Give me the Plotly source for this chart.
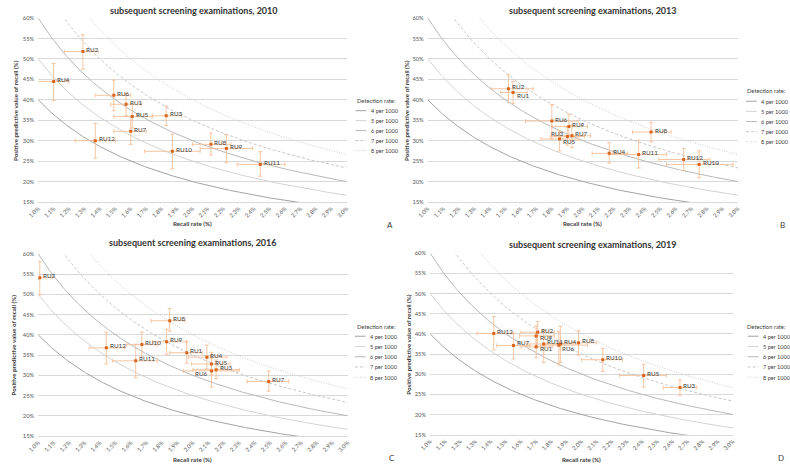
import numpy as np
import plotly.graph_objects as go

W, H = 790, 466
FONT = "Lato, 'Liberation Sans', sans-serif"

units = ["RU1", "RU2", "RU3", "RU4", "RU5", "RU6", "RU7", "RU8", "RU9", "RU10", "RU11", "RU12"]
years = ["2010", "2013", "2016", "2019"]

# ---- 2010 ----
recall_2010 = [1.57, 1.29, 1.83, 1.10, 1.61, 1.49, 1.60, 2.12, 2.22, 1.87, 2.44, 1.37]
recall_lo_2010 = [1.47, 1.17, 1.74, 0.99, 1.49, 1.37, 1.49, 2.00, 2.05, 1.69, 2.29, 1.24]
recall_hi_2010 = [1.67, 1.39, 1.93, 1.20, 1.74, 1.60, 1.70, 2.25, 2.39, 2.05, 2.60, 1.50]
ppv_2010 = [38.9, 51.8, 36.1, 44.5, 35.9, 41.1, 32.3, 29.1, 28.1, 27.4, 24.2, 30.0]
ppv_lo_2010 = [36.1, 47.5, 33.7, 39.8, 33.1, 37.3, 29.1, 26.5, 24.6, 23.1, 21.3, 25.7]
ppv_hi_2010 = [41.6, 55.9, 38.5, 48.9, 38.9, 44.8, 36.0, 31.9, 31.5, 31.6, 27.3, 34.2]

# ---- 2013 ----
recall_2013 = [1.55, 1.52, 1.90, 2.17, 1.85, 1.80, 1.93, 2.44, 1.91, 2.75, 2.36, 2.65]
recall_lo_2013 = [1.47, 1.41, 1.79, 2.06, 1.73, 1.63, 1.82, 2.32, 1.80, 2.54, 2.17, 2.49]
recall_hi_2013 = [1.64, 1.68, 2.01, 2.29, 1.97, 1.97, 2.05, 2.57, 2.03, 2.97, 2.54, 2.82]
ppv_2013 = [41.8, 42.7, 31.0, 26.9, 30.4, 34.8, 31.2, 32.1, 33.5, 24.2, 26.6, 25.4]
ppv_lo_2013 = [39.1, 39.4, 28.9, 24.5, 27.5, 30.4, 28.3, 29.7, 30.9, 20.9, 23.3, 22.7]
ppv_hi_2013 = [44.5, 46.1, 33.3, 29.5, 32.3, 38.8, 33.8, 34.5, 36.5, 27.5, 30.1, 28.1]

# ---- 2016 ----
recall_2016 = [1.96, 1.01, 2.15, 2.09, 2.12, 2.12, 2.49, 1.85, 1.83, 1.67, 1.63, 1.44]
recall_lo_2016 = [1.85, 1.00, 2.00, 1.97, 1.99, 1.94, 2.35, 1.73, 1.74, 1.57, 1.48, 1.33]
recall_hi_2016 = [2.06, 1.09, 2.30, 2.22, 2.24, 2.29, 2.62, 1.95, 1.96, 1.77, 1.77, 1.56]
ppv_2016 = [35.6, 54.1, 31.4, 34.5, 32.8, 31.1, 28.5, 43.5, 38.3, 37.6, 33.6, 36.8]
ppv_lo_2016 = [33.0, 49.9, 29.2, 31.6, 30.1, 27.1, 26.1, 40.9, 35.2, 34.6, 29.4, 32.8]
ppv_hi_2016 = [38.3, 58.1, 33.8, 37.5, 35.7, 34.2, 31.1, 46.5, 41.4, 40.7, 37.7, 40.7]

# ---- 2019 ----
recall_2019 = [1.70, 1.71, 2.65, 1.86, 2.41, 1.85, 1.55, 1.98, 1.70, 2.14, 1.75, 1.42]
recall_lo_2019 = [1.60, 1.60, 2.54, 1.75, 2.25, 1.73, 1.44, 1.85, 1.59, 2.00, 1.64, 1.31]
recall_hi_2019 = [1.81, 1.82, 2.76, 1.98, 2.56, 2.04, 1.66, 2.10, 1.82, 2.27, 1.87, 1.55]
ppv_2019 = [36.8, 40.4, 26.7, 37.5, 29.7, 37.2, 37.1, 37.8, 39.5, 33.6, 37.5, 40.1]
ppv_lo_2019 = [34.1, 36.8, 24.8, 32.9, 26.8, 32.3, 33.8, 34.7, 36.6, 30.7, 32.9, 36.0]
ppv_hi_2019 = [40.1, 43.1, 28.6, 41.9, 32.5, 40.6, 40.2, 40.8, 42.0, 36.4, 40.9, 44.3]

# iso detection-rate reference curves (per 1000)
detection_rates = [4, 5, 6, 7, 8]
detection_labels = ["4 per 1000", "5 per 1000", "6 per 1000", "7 per 1000", "8 per 1000"]

x_ticks = [round(1.0 + 0.1 * i, 1) for i in range(21)]
y_ticks = [15, 20, 25, 30, 35, 40, 45, 50, 55, 60]

data = {
    "2010": (recall_2010, recall_lo_2010, recall_hi_2010, ppv_2010, ppv_lo_2010, ppv_hi_2010),
    "2013": (recall_2013, recall_lo_2013, recall_hi_2013, ppv_2013, ppv_lo_2013, ppv_hi_2013),
    "2016": (recall_2016, recall_lo_2016, recall_hi_2016, ppv_2016, ppv_lo_2016, ppv_hi_2016),
    "2019": (recall_2019, recall_lo_2019, recall_hi_2019, ppv_2019, ppv_lo_2019, ppv_hi_2019),
}

# ---- styling / layout geometry (pixels) ----
curve_styles = [
    dict(color="#a3a3a3", dash="solid"),
    dict(color="#d3d3d3", dash="solid"),
    dict(color="#b8b8b8", dash="solid"),
    dict(color="#c6c6c6", dash="3px,2px"),
    dict(color="#cccccc", dash="1px,1.5px"),
]

panels = {
    "2010": dict(plot=(27.7, 341.7, 14.3, 201.0), title=(186.0, 6.5), leg_title=(350.7, 97.7),
                 leg_line=(350.7, 361.7), leg_text=364.3, leg_first=108.3, leg_step=10.1,
                 letter=("A", 385.7, 224.0), ytitle_x=4.0, xtitle_y=222.5),
    "2013": dict(plot=(424.3, 740.0, 14.3, 201.0), title=(592.0, 6.5), leg_title=(747.7, 88.0),
                 leg_line=(748.3, 759.3), leg_text=761.7, leg_first=98.7, leg_step=10.3,
                 letter=("B", 785.0, 224.0), ytitle_x=402.0, xtitle_y=222.5),
    "2016": dict(plot=(27.7, 342.7, 253.7, 438.7), title=(185.0, 242.5), leg_title=(350.0, 327.0),
                 leg_line=(350.0, 361.0), leg_text=363.0, leg_first=337.3, leg_step=10.4,
                 letter=("C", 388.0, 461.0), ytitle_x=3.5, xtitle_y=462.0),
    "2019": dict(plot=(426.7, 735.0, 253.0, 437.3), title=(592.0, 244.0), leg_title=(747.7, 327.3),
                 leg_line=(750.0, 761.0), leg_text=763.3, leg_first=337.3, leg_step=10.4,
                 letter=("D", 784.0, 461.0), ytitle_x=405.0, xtitle_y=462.0),
}

# label offsets (xanchor, xshift, yshift) for crowded points
default_off = ("left", 1.5, 2.0)
label_offsets = {
    "2013": {"RU1": ("left", 1.5, -3.3), "RU5": ("left", 1.5, -2.5), "RU3": ("right", -1.0, 3.0),
             "RU2": ("left", 1.5, 2.0)},
    "2016": {"RU6": ("right", -1.0, -2.5)},
    "2019": {"RU2": ("left", 1.5, 1.8), "RU9": ("left", 1.5, -1.8), "RU1": ("left", 1.5, -1.5),
             "RU6": ("left", 1.5, -2.9), "RU11": ("left", 1.5, 2.3), "RU4": ("left", 1.5, 2.3),
             "RU7": ("left", 1.5, 3.0)},
}


def px(x):
    return x / W


def py(y):
    return 1 - y / H


fig = go.Figure()
annotations = []
shapes = []
layout_axes = {}

recall_grid = np.linspace(1.0, 3.0, 401)

for i, yr in enumerate(years):
    n = "" if i == 0 else str(i + 1)
    xa, ya = "x" + n, "y" + n
    g = panels[yr]
    x0, x1, y0, y1 = g["plot"]

    # reference curves: PPV(%) = DR(per 1000) * 10 / recall(%)
    for dr, lab, st in zip(detection_rates, detection_labels, curve_styles):
        fig.add_trace(go.Scatter(
            x=recall_grid, y=dr * 10 / recall_grid, mode="lines", xaxis=xa, yaxis=ya,
            line=dict(color=st["color"], width=1, dash=st["dash"]),
            name=lab, showlegend=False, hoverinfo="skip"))

    rec, rlo, rhi, ppv, plo, phi = [np.array(a, dtype=float) for a in data[yr]]
    fig.add_trace(go.Scatter(
        x=rec, y=ppv, mode="markers", xaxis=xa, yaxis=ya, showlegend=False,
        marker=dict(symbol="square", size=3.0, color="#D9661F"),
        error_x=dict(type="data", symmetric=False, array=rhi - rec, arrayminus=rec - rlo,
                     color="#F6BF98", thickness=0.9, width=2),
        error_y=dict(type="data", symmetric=False, array=phi - ppv, arrayminus=ppv - plo,
                     color="#F6BF98", thickness=0.9, width=2),
        text=units, hovertemplate="%{text}: %{x:.2f}%, %{y:.1f}%<extra></extra>"))

    offs = label_offsets.get(yr, {})
    for u, xv, yv in zip(units, rec, ppv):
        anc, xs, ys = offs.get(u, default_off)
        annotations.append(dict(x=xv, y=yv, xref=xa, yref=ya, text=u, showarrow=False,
                                xanchor=anc, yanchor="middle", xshift=xs, yshift=ys,
                                font=dict(family=FONT, size=6.3, color="#404040")))

    key = "" if i == 0 else str(i + 1)
    layout_axes["xaxis" + key] = dict(
        domain=[px(x0), px(x1)], anchor=ya, range=[1.0, 3.0], tickvals=x_ticks,
        ticktext=[f"{t:.1f}%" for t in x_ticks], tickangle=-45, showgrid=False,
        showline=True, linecolor="#d9d9d9", linewidth=1, zeroline=False, ticks="",
        tickfont=dict(family=FONT, size=5.8, color="#595959"), fixedrange=True)
    layout_axes["yaxis" + key] = dict(
        domain=[py(y1), py(y0)], anchor=xa, range=[15, 60], tickvals=y_ticks,
        ticktext=[f"{t}%" for t in y_ticks], showgrid=True, gridcolor="#d9d9d9",
        gridwidth=1, zeroline=False, showline=False, ticks="", ticklabelstandoff=3,
        tickfont=dict(family=FONT, size=5.8, color="#595959"), fixedrange=True)

    # title
    tx, ty = g["title"]
    annotations.append(dict(x=px(tx), y=py(ty), xref="paper", yref="paper",
                            text=f"<b>subsequent screening examinations, {yr}</b>",
                            showarrow=False, xanchor="center", yanchor="middle",
                            font=dict(family=FONT, size=9, color="#333333")))
    # axis titles
    annotations.append(dict(x=px((x0 + x1) / 2), y=py(g["xtitle_y"]), xref="paper", yref="paper",
                            text="<b>Recall rate (%)</b>", showarrow=False,
                            xanchor="center", yanchor="middle",
                            font=dict(family=FONT, size=6.2, color="#404040")))
    annotations.append(dict(x=px(g["ytitle_x"]), y=py((y0 + y1) / 2), xref="paper", yref="paper",
                            text="<b>Positive predictive value of recall (%)</b>", showarrow=False,
                            textangle=-90, xanchor="center", yanchor="middle",
                            font=dict(family=FONT, size=6.2, color="#404040")))
    # panel letter
    L, lx, ly = g["letter"]
    annotations.append(dict(x=px(lx), y=py(ly), xref="paper", yref="paper", text=L,
                            showarrow=False, xanchor="center", yanchor="middle",
                            font=dict(family=FONT, size=8, color="#404040")))
    # legend
    ltx, lty = g["leg_title"]
    annotations.append(dict(x=px(ltx), y=py(lty), xref="paper", yref="paper",
                            text="Detection rate:", showarrow=False, xanchor="left",
                            yanchor="middle", font=dict(family=FONT, size=5.8, color="#404040")))
    lx0, lx1 = g["leg_line"]
    for k, (lab, st) in enumerate(zip(detection_labels, curve_styles)):
        yy = g["leg_first"] + k * g["leg_step"]
        shapes.append(dict(type="line", xref="paper", yref="paper", x0=px(lx0), x1=px(lx1),
                           y0=py(yy), y1=py(yy),
                           line=dict(color=st["color"], width=1, dash=st["dash"])))
        annotations.append(dict(x=px(g["leg_text"]), y=py(yy), xref="paper", yref="paper",
                                text=lab, showarrow=False, xanchor="left", yanchor="middle",
                                font=dict(family=FONT, size=5.6, color="#404040")))

fig.update_layout(
    width=W, height=H, margin=dict(l=0, r=0, t=0, b=0),
    paper_bgcolor="white", plot_bgcolor="white", showlegend=False,
    font=dict(family=FONT, size=6.5, color="#404040"),
    annotations=annotations, shapes=shapes, **layout_axes)

fig.write_html("out.html", config={"displayModeBar": False})
